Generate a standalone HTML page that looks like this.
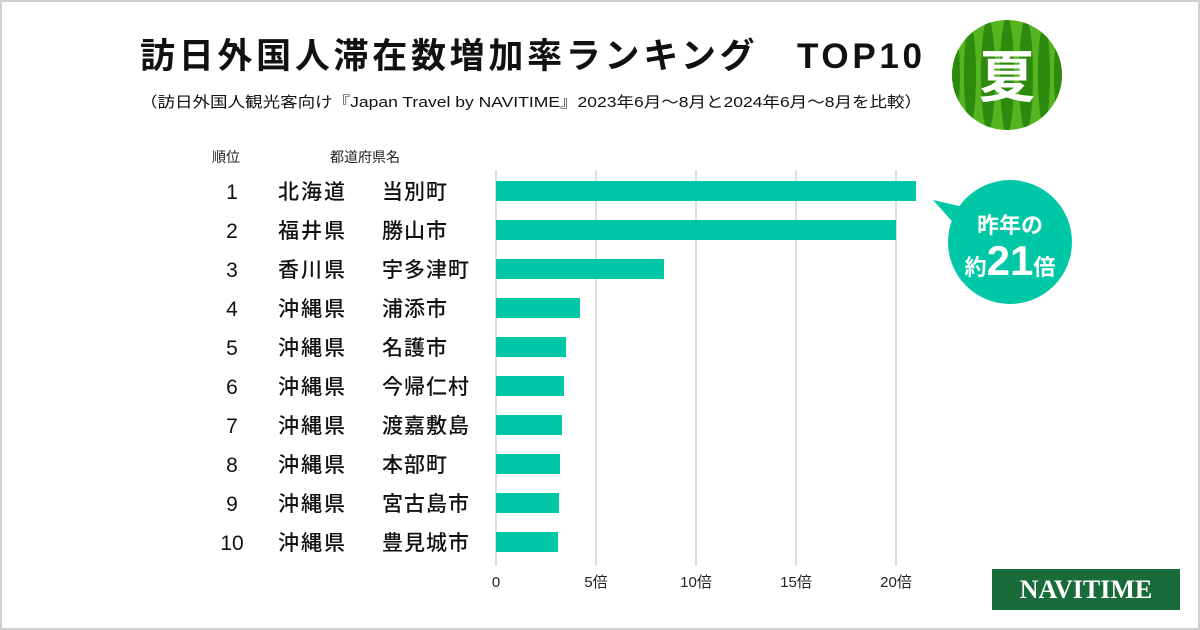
<!DOCTYPE html>
<html><head><meta charset="utf-8"><style>
body{margin:0;background:#fff}
#c{position:relative;width:1200px;height:630px;overflow:hidden;font-family:"Liberation Sans","Noto Sans CJK JP",sans-serif;box-sizing:border-box;border:2px solid #d0d0d0;background:#fff}
</style></head><body>
<div id="c">
<svg id="s" width="1200" height="630" style="position:absolute;left:-2px;top:-2px">
<text x="140" y="68" font-size="35" font-weight="bold" fill="#111" textLength="782" lengthAdjust="spacing" font-family="Liberation Sans,Noto Sans CJK JP,sans-serif">訪日外国人滞在数増加率ランキング　TOP10</text>
<text x="140" y="107" font-size="15" fill="#111" textLength="782" lengthAdjust="spacingAndGlyphs" font-family="Liberation Sans,Noto Sans CJK JP,sans-serif">（訪日外国人観光客向け『Japan Travel by NAVITIME』2023年6月～8月と2024年6月～8月を比較）</text>
<text x="212" y="162" font-size="14" fill="#222" font-family="Liberation Sans,Noto Sans CJK JP,sans-serif">順位</text>
<text x="330" y="162" font-size="14" fill="#222" font-family="Liberation Sans,Noto Sans CJK JP,sans-serif">都道府県名</text>
<g id="grid"></g><g id="bars"></g><g id="labels"></g>
<g>
<defs><clipPath id="wm"><circle cx="1007" cy="75" r="55"/></clipPath></defs>
<circle cx="1007" cy="75" r="55" fill="#55b520"/>
<g clip-path="url(#wm)" fill="#2e8a0e">
<ellipse cx="1007" cy="75" rx="7" ry="58"/><ellipse cx="988" cy="75" rx="7" ry="56"/><ellipse cx="1026" cy="75" rx="7" ry="56"/><ellipse cx="970" cy="75" rx="6" ry="50"/><ellipse cx="1044" cy="75" rx="6" ry="50"/><ellipse cx="955" cy="75" rx="5" ry="40"/><ellipse cx="1059" cy="75" rx="5" ry="40"/></g>
<text x="1007" y="97" text-anchor="middle" font-size="56" font-weight="bold" fill="#fff" font-family="Liberation Sans,Noto Sans CJK JP,sans-serif">夏</text>
</g>
<g>
<path d="M933,200 L968,208 L958,228 Z" fill="#00c8a6"/>
<circle cx="1010" cy="242" r="62" fill="#00c8a6"/>
<text x="1010" y="233" text-anchor="middle" font-size="22" font-weight="bold" fill="#fff" font-family="Liberation Sans,Noto Sans CJK JP,sans-serif">昨年の</text>
<text x="1010" y="275" text-anchor="middle" fill="#fff" font-weight="bold" font-family="Liberation Sans,Noto Sans CJK JP,sans-serif"><tspan font-size="22">約</tspan><tspan font-size="42">21</tspan><tspan font-size="22">倍</tspan></text>
</g>
<g>
<rect x="992" y="569" width="188" height="41" fill="#1a6b3a"/>
<text x="1086" y="598" text-anchor="middle" font-size="26" font-weight="bold" fill="#fff" font-family="Liberation Serif,serif">NAVITIME</text>
</g>
</svg>
</div>
<script>
const ranks=["1","2","3","4","5","6","7","8","9","10"];
const prefs=["北海道","福井県","香川県","沖縄県","沖縄県","沖縄県","沖縄県","沖縄県","沖縄県","沖縄県"];
const cities=["当別町","勝山市","宇多津町","浦添市","名護市","今帰仁村","渡嘉敷島","本部町","宮古島市","豊見城市"];
const values=[21,20,8.4,4.2,3.5,3.4,3.3,3.2,3.15,3.1];
const ticks=[0,5,10,15,20];
const tickLabels=["0","5倍","10倍","15倍","20倍"];
const NS="http://www.w3.org/2000/svg";
const x=v=>496+v*20;
const y=i=>181+i*39;
function mk(t,a,p){const e=document.createElementNS(NS,t);for(const k in a)e.setAttribute(k,a[k]);p.appendChild(e);return e;}
const F="Liberation Sans,Noto Sans CJK JP,sans-serif";
const g=document.getElementById('grid'),b=document.getElementById('bars'),l=document.getElementById('labels');
ticks.forEach((t,i)=>{
 const ln=mk('line',{x1:x(t),x2:x(t),y1:170,y2:566,stroke:'#d4d4d4','stroke-width':1.5},g);
 
 
 const tx=mk('text',{x:x(t),y:587,'text-anchor':'middle','font-size':15,fill:'#222','font-family':F},l);
 tx.textContent=tickLabels[i];
 
 
});
values.forEach((v,i)=>{
 const r=mk('rect',{x:x(0),y:y(i),width:x(v)-x(0),height:20,fill:'#00c8a6'},b);
 
 
 const cy=y(i)+18;
 const a=mk('text',{x:232,y:cy,'text-anchor':'middle','font-size':21,fill:'#111','font-family':F},l);
 a.textContent=ranks[i];
 
 
 const p=mk('text',{x:278,y:cy,'font-size':21,fill:'#111','font-weight':'500','font-family':F,'letter-spacing':2},l);
 p.textContent=prefs[i];
 
 
 const c=mk('text',{x:382,y:cy,'font-size':21,fill:'#111','font-weight':'500','font-family':F,'letter-spacing':1},l);
 c.textContent=cities[i];
 
 
});
</script>
</body></html>
